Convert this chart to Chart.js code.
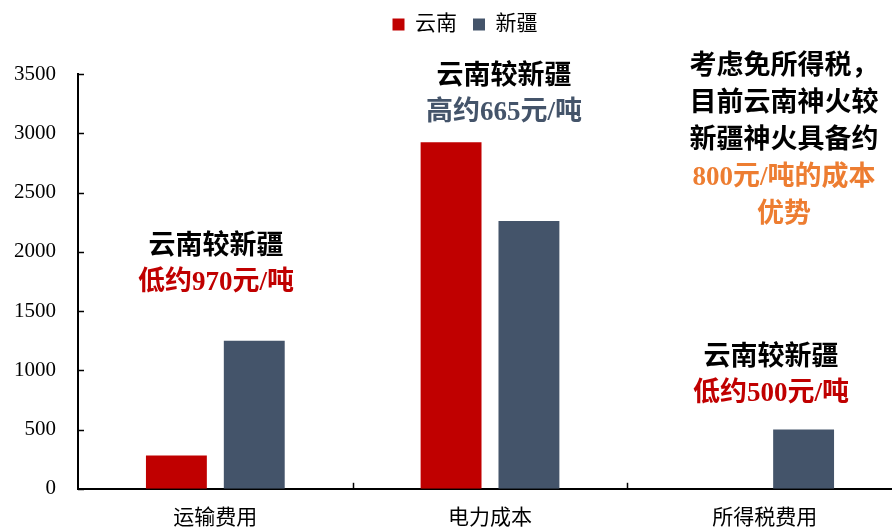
<!DOCTYPE html>
<html>
<head>
<meta charset="utf-8">
<script src="https://cdn.jsdelivr.net/npm/chart.js@4.4.1/dist/chart.umd.min.js"></script>
<style>
  html, body { margin: 0; padding: 0; overflow: hidden; background: #fff; }
  #wrap { position: absolute; left: 0; top: 0; width: 910px; height: 548px; }
</style>
</head>
<body>
<div id="wrap"><canvas id="myChart"></canvas></div>
<script>
// Kategorien und Werte (元/吨)
const categories = ["运输费用", "电力成本", "所得税费用"];
const yunnan = [280, 2925, 0];
const xinjiang = [1250, 2260, 500];
const seriesNames = ["云南", "新疆"];
const yTicks = [0, 500, 1000, 1500, 2000, 2500, 3000, 3500];

const RED = "#C00000";
const SLATE = "#44546A";
const ORANGE = "#ED7D31";
const MIX = '"Liberation Serif", "Noto Sans CJK SC"';

// Textanmerkungen im Diagramm
const notes = [
  { x: 216, y: 247, lines: [["云南较新疆", "#000"], ["低约970元/吨", RED]] },
  { x: 504, y: 77, lines: [["云南较新疆", "#000"], ["高约665元/吨", SLATE]] },
  { x: 784, y: 67, lines: [["考虑免所得税，", "#000"], ["目前云南神火较", "#000"], ["新疆神火具备约", "#000"], ["800元/吨的成本", ORANGE], ["优势", ORANGE]] },
  { x: 771, y: 358, lines: [["云南较新疆", "#000"], ["低约500元/吨", RED]] }
];

const extras = {
  id: "extras",
  beforeInit(chart) {
    const fit = chart.legend.fit;
    chart.legend.fit = function () {
      fit.bind(chart.legend)();
      this.height += 29;
    };
  },
  afterLayout(chart) {
    // Legende etwas nach rechts schieben
    chart.legend.left += 18;
    chart.legend.right += 18;
  },
  afterDraw(chart) {
    const ctx = chart.ctx;
    const xs = chart.scales.x, ys = chart.scales.y;
    const area = chart.chartArea;
    ctx.save();
    ctx.strokeStyle = "#000";
    ctx.lineWidth = 1.5;
    // Teilstriche nach innen
    yTicks.forEach(v => {
      const py = Math.round(ys.getPixelForValue(v)) + 0.5;
      ctx.beginPath();
      ctx.moveTo(area.left, py);
      ctx.lineTo(area.left + 6, py);
      ctx.stroke();
    });
    const half = (xs.getPixelForValue(1) - xs.getPixelForValue(0)) / 2;
    for (let i = 1; i < categories.length; i++) {
      const px = Math.round(xs.getPixelForValue(i) - half) + 0.5;
      ctx.beginPath();
      ctx.moveTo(px, area.bottom);
      ctx.lineTo(px, area.bottom - 6);
      ctx.stroke();
    }
    // Anmerkungen
    ctx.textAlign = "center";
    ctx.textBaseline = "middle";
    ctx.font = "bold 27px " + MIX;
    notes.forEach(n => {
      const gap = n.lines.length > 2 ? 37 : 36;
      n.lines.forEach((l, i) => {
        ctx.fillStyle = l[1];
        ctx.fillText(l[0], n.x, n.y + i * gap);
      });
    });
    ctx.restore();
  }
};

const ctx = document.getElementById("myChart").getContext("2d");
new Chart(ctx, {
  type: "bar",
  data: {
    labels: categories,
    datasets: [
      { label: seriesNames[0], data: yunnan, backgroundColor: RED },
      { label: seriesNames[1], data: xinjiang, backgroundColor: SLATE }
    ]
  },
  options: {
    responsive: true,
    maintainAspectRatio: false,
    animation: false,
    categoryPercentage: 0.567,
    barPercentage: 0.782,
    layout: { padding: { top: -2, left: -8, right: 8, bottom: 0 } },
    plugins: {
      legend: {
        position: "top",
        labels: {
          color: "#000",
          boxWidth: 12,
          boxHeight: 12,
          padding: 16,
          font: { family: MIX, size: 21 }
        }
      },
      tooltip: { enabled: false }
    },
    scales: {
      x: {
        grid: { display: false, drawTicks: false },
        border: { display: true, color: "#000", width: 2 },
        ticks: { color: "#000", padding: 17, font: { family: MIX, size: 21 } }
      },
      y: {
        min: 0,
        max: 3500,
        grid: { display: false, drawTicks: false },
        border: { display: true, color: "#000", width: 2 },
        ticks: {
          color: "#000",
          stepSize: 500,
          padding: 22,
          font: { family: MIX, size: 21 },
          callback: v => String(v)
        }
      }
    }
  },
  plugins: [extras]
});
</script>
</body>
</html>
